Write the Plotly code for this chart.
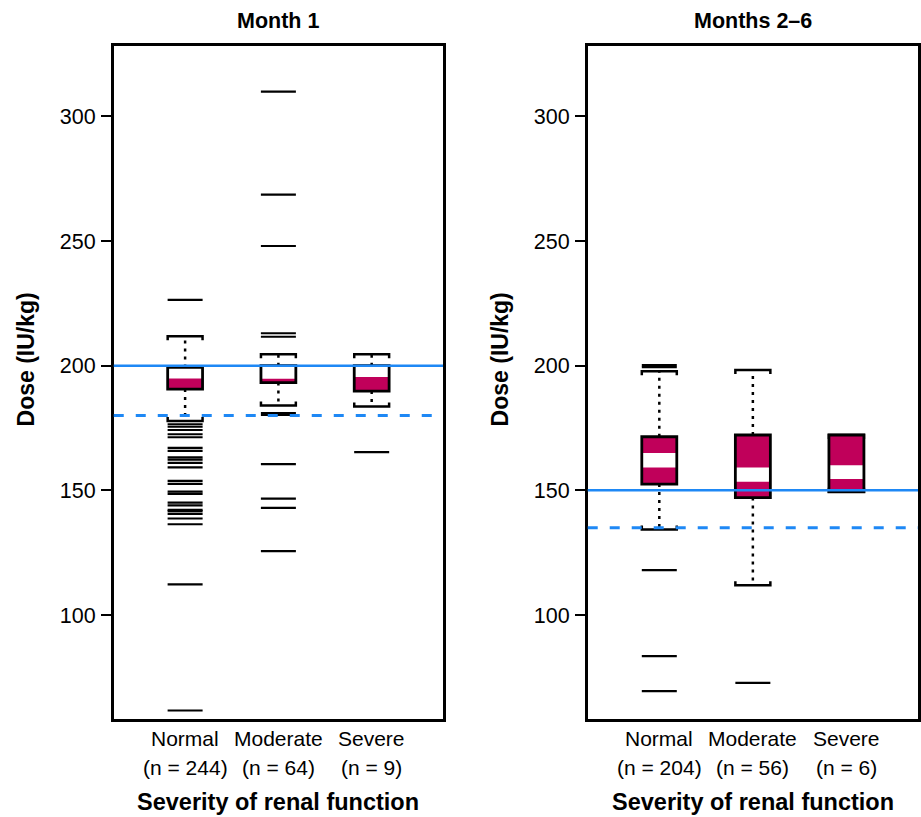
import plotly.graph_objects as go

# ---------------- data ----------------
categories = ["Normal", "Moderate", "Severe"]
panel_titles = ["Month 1", "Months 2\u20136"]
n_month1 = [244, 64, 9]
n_month26 = [204, 56, 6]

# Month 1 box statistics (IU/kg)
m1_q1 = [190.6, 193.2, 189.8]
m1_q3 = [199.3, 200.0, 200.0]
m1_band_lo = [194.9, 194.8, 195.5]
m1_band_hi = [199.3, 200.0, 200.0]
m1_whisker_lo = [177.8, 184.0, 183.6]
m1_whisker_hi = [211.8, 204.6, 204.6]
m1_out_normal = [226.4, 176.5, 175.5, 174.2, 172.5, 171.3, 167.0, 165.8, 163.2,
                 162.3, 161.0, 159.2, 153.8, 152.6, 149.5, 148.6, 145.1, 144.0,
                 142.2, 141.7, 140.6, 138.7, 136.4, 112.3, 61.7]
m1_out_moderate = [309.9, 268.6, 248.0, 213.0, 211.6, 181.0, 180.3, 160.5,
                   146.7, 143.0, 125.6]
m1_out_severe = [165.3]

# Months 2-6 box statistics (IU/kg)
m26_q1 = [152.5, 147.1, 149.4]
m26_q3 = [171.5, 172.2, 172.2]
m26_band_lo = [159.2, 153.4, 154.5]
m26_band_hi = [165.0, 159.2, 160.1]
m26_whisker_lo = [134.3, 111.9, 149.4]
m26_whisker_hi = [197.8, 198.3, 172.2]
m26_out_normal = [200.2, 199.4, 118.0, 83.5, 69.5]
m26_out_moderate = [72.8]
m26_out_severe = []

target_dose = [200, 150]
threshold_dose = [180, 135]

x_title = "Severity of renal function"
y_title = "Dose (IU/kg)"
y_ticks = [100, 150, 200, 250, 300]

# ---------------- style ----------------
FONT = "Liberation Sans, Arial, sans-serif"
MAGENTA = "#C0005A"
BLUE = "#1E88F5"
W, H = 921, 817
HALF = 0.187
STAPLE = 1.6
X_RANGE = [0.235, 3.765]
Y_RANGE = [58.5, 328.4]

panels = [
    dict(q1=m1_q1, q3=m1_q3, blo=m1_band_lo, bhi=m1_band_hi,
         wlo=m1_whisker_lo, whi=m1_whisker_hi, n=n_month1,
         out=[m1_out_normal, m1_out_moderate, m1_out_severe]),
    dict(q1=m26_q1, q3=m26_q3, blo=m26_band_lo, bhi=m26_band_hi,
         wlo=m26_whisker_lo, whi=m26_whisker_hi, n=n_month26,
         out=[m26_out_normal, m26_out_moderate, m26_out_severe]),
]

x_domains = [[114 / W, 444 / W], [589 / W, 920 / W]]
y_domain = [1 - 718.5 / H, 1 - 45.5 / H]

fig = go.Figure()
shapes = []
annotations = []

for p, panel in enumerate(panels):
    xa = "x" if p == 0 else "x2"
    ya = "y" if p == 0 else "y2"
    xpos = list(range(1, len(categories) + 1))

    # outliers
    ox, oy = [], []
    for i, vals in enumerate(panel["out"]):
        for v in vals:
            ox.append(xpos[i])
            oy.append(v)
    fig.add_trace(go.Scatter(
        x=ox, y=oy, mode="markers", xaxis=xa, yaxis=ya, showlegend=False,
        hoverinfo="y",
        marker=dict(symbol="line-ew", size=25, color="black",
                    line=dict(color="black", width=2.2)),
    ))

    for i in range(len(categories)):
        xc = xpos[i]
        x0, x1 = xc - HALF, xc + HALF
        q1, q3 = panel["q1"][i], panel["q3"][i]
        blo, bhi = panel["blo"][i], panel["bhi"][i]
        wlo, whi = panel["wlo"][i], panel["whi"][i]
        # whiskers (dotted)
        for a, b in ((q3, whi), (q1, wlo)):
            if abs(a - b) > 0.05:
                shapes.append(dict(type="line", xref=xa, yref=ya, x0=xc, x1=xc,
                                   y0=a, y1=b,
                                   line=dict(color="black", width=2.5, dash="3px,5px")))
        # staples
        shapes.append(dict(type="path", xref=xa, yref=ya,
                           path=f"M{x0},{whi - STAPLE} L{x0},{whi} L{x1},{whi} L{x1},{whi - STAPLE}",
                           line=dict(color="black", width=2.5)))
        shapes.append(dict(type="path", xref=xa, yref=ya,
                           path=f"M{x0},{wlo + STAPLE} L{x0},{wlo} L{x1},{wlo} L{x1},{wlo + STAPLE}",
                           line=dict(color="black", width=2.5)))
        # box fill
        shapes.append(dict(type="rect", xref=xa, yref=ya, x0=x0, x1=x1, y0=q1, y1=q3,
                           fillcolor=MAGENTA, line=dict(width=0)))
        shapes.append(dict(type="rect", xref=xa, yref=ya, x0=x0, x1=x1, y0=blo, y1=bhi,
                           fillcolor="white", line=dict(width=0)))
        shapes.append(dict(type="rect", xref=xa, yref=ya, x0=x0, x1=x1, y0=q1, y1=q3,
                           fillcolor="rgba(0,0,0,0)", line=dict(color="black", width=2.8)))

        # category labels
        annotations.append(dict(xref=xa, yref="paper", x=xc, y=1 - 738 / H,
                                text=categories[i], showarrow=False,
                                xanchor="center", yanchor="middle",
                                font=dict(family=FONT, size=21, color="black")))
        annotations.append(dict(xref=xa, yref="paper", x=xc, y=1 - 767 / H,
                                text=f"(n = {panel['n'][i]})", showarrow=False,
                                xanchor="center", yanchor="middle",
                                font=dict(family=FONT, size=21, color="black")))

    # reference lines
    shapes.append(dict(type="line", xref=f"{xa} domain", yref=ya, x0=0, x1=1,
                       y0=target_dose[p], y1=target_dose[p],
                       line=dict(color=BLUE, width=2.5)))
    shapes.append(dict(type="line", xref=f"{xa} domain", yref=ya, x0=0, x1=1,
                       y0=threshold_dose[p], y1=threshold_dose[p],
                       line=dict(color=BLUE, width=3, dash="10px,12px")))

    xd = x_domains[p]
    cx = (xd[0] + xd[1]) / 2
    annotations.append(dict(xref="paper", yref="paper", x=cx, y=1 - 20.5 / H,
                            text=f"<b>{panel_titles[p]}</b>", showarrow=False,
                            xanchor="center", yanchor="middle",
                            font=dict(family=FONT, size=21.5, color="black")))
    annotations.append(dict(xref="paper", yref="paper", x=cx, y=1 - 802 / H,
                            text=f"<b>{x_title}</b>", showarrow=False,
                            xanchor="center", yanchor="middle",
                            font=dict(family=FONT, size=23.5, color="black")))
    annotations.append(dict(xref="paper", yref="paper", x=xd[0] - 87 / W,
                            y=1 - 359.5 / H, text=f"<b>{y_title}</b>",
                            showarrow=False, textangle=-90,
                            xanchor="center", yanchor="middle",
                            font=dict(family=FONT, size=23, color="black")))

axis_common_x = dict(range=X_RANGE, showgrid=False, zeroline=False,
                     showticklabels=False, ticks="", showline=True, mirror=True,
                     linecolor="black", linewidth=2.5, fixedrange=True)
axis_common_y = dict(range=Y_RANGE, showgrid=False, zeroline=False,
                     tickvals=y_ticks, ticks="outside", ticklen=10, tickwidth=2,
                     tickcolor="black", showline=True, mirror=True,
                     linecolor="black", linewidth=2.5, ticklabelstandoff=1,
                     tickfont=dict(family=FONT, size=21.5, color="black"))

fig.update_layout(
    width=W, height=H,
    margin=dict(l=0, r=0, t=0, b=0),
    paper_bgcolor="white", plot_bgcolor="white",
    xaxis=dict(domain=x_domains[0], anchor="y", **axis_common_x),
    yaxis=dict(domain=y_domain, anchor="x", **axis_common_y),
    xaxis2=dict(domain=x_domains[1], anchor="y2", **axis_common_x),
    yaxis2=dict(domain=y_domain, anchor="x2", **axis_common_y),
    shapes=shapes,
    annotations=annotations,
    showlegend=False,
    font=dict(family=FONT, color="black"),
)

fig.write_html(
    "out.html",
    config={"displayModeBar": False},
    post_script="document.body.style.margin='0px';document.body.style.overflow='hidden';",
)
